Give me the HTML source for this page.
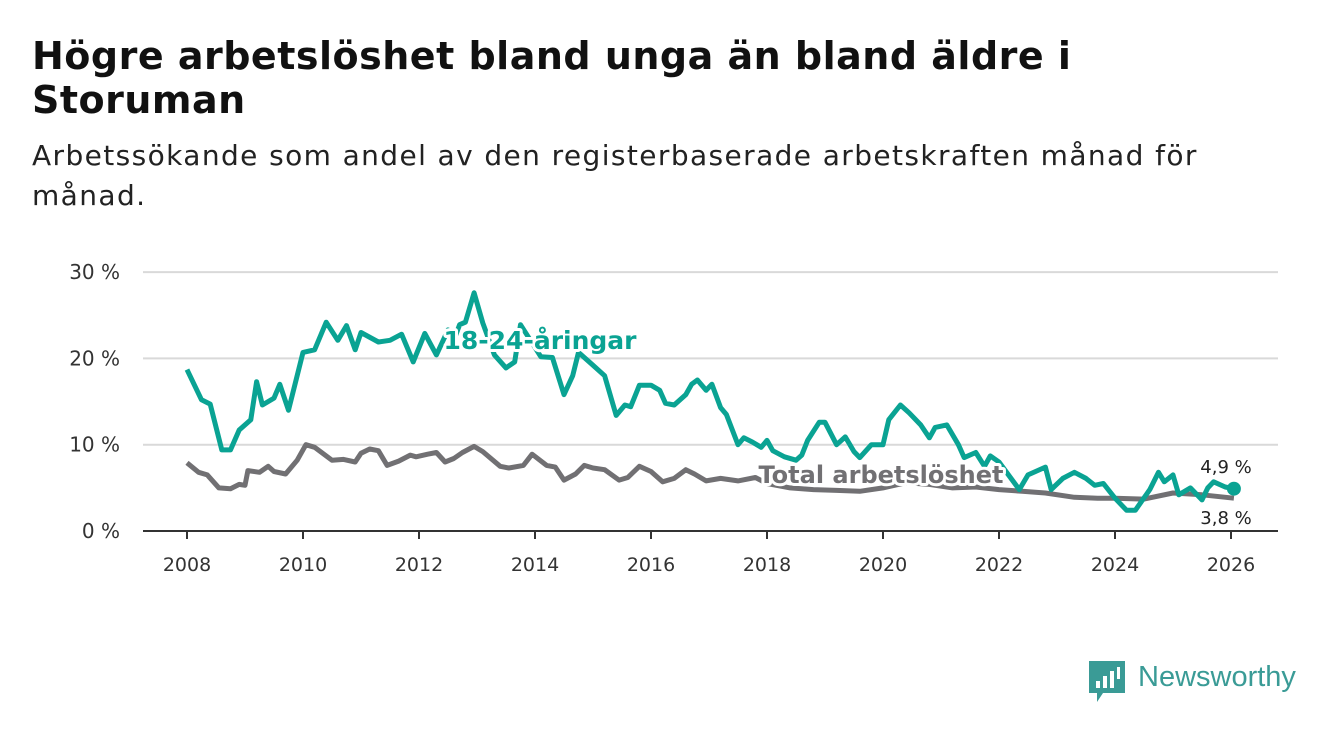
<!DOCTYPE html>
<html><head><meta charset="utf-8"><style>
body{margin:0;width:1340px;height:734px;background:#fff;font-family:"DejaVu Sans","Liberation Sans",sans-serif;overflow:hidden;position:relative}
h1{position:absolute;left:32px;top:34px;margin:0;font-size:38px;line-height:44px;font-weight:bold;color:#111;letter-spacing:0.5px;white-space:nowrap}
.sub{position:absolute;left:32px;top:136px;margin:0;font-size:28px;line-height:40px;color:#222;letter-spacing:1.4px;white-space:nowrap}
</style></head><body>
<h1>Högre arbetslöshet bland unga än bland äldre i<br>Storuman</h1>
<p class="sub">Arbetssökande som andel av den registerbaserade arbetskraften månad för<br>månad.</p>
<svg id="chart" width="1340" height="734" style="position:absolute;left:0;top:0" xmlns="http://www.w3.org/2000/svg"></svg>
<div style="position:absolute;left:1089px;top:661px;display:flex;align-items:center">
<svg width="36" height="42"><path d="M0 0H36V32H14L8 41V32H0Z" fill="#3a9b96"/><rect x="7" y="20" width="4" height="7" fill="#fff"/><rect x="14" y="15" width="4" height="12" fill="#fff"/><rect x="21" y="10" width="4" height="17" fill="#fff"/><rect x="28" y="6" width="3" height="12" fill="#fff"/></svg>
<span style="margin-left:13px;font-size:29px;color:#3a9b96;margin-top:-10px;font-family:'Liberation Sans',sans-serif">Newsworthy</span></div>
<script>
const yTicks=[0,10,20,30];
const xTicks=[2008,2010,2012,2014,2016,2018,2020,2022,2024,2026];
const youthDates=[2008.0,2008.25,2008.4,2008.6,2008.75,2008.9,2009.1,2009.2,2009.3,2009.5,2009.6,2009.75,2010.0,2010.2,2010.4,2010.6,2010.75,2010.9,2011.0,2011.3,2011.5,2011.7,2011.9,2012.1,2012.3,2012.5,2012.6,2012.7,2012.8,2012.95,2013.1,2013.3,2013.5,2013.65,2013.75,2014.1,2014.3,2014.5,2014.65,2014.75,2015.0,2015.2,2015.4,2015.55,2015.65,2015.8,2016.0,2016.15,2016.25,2016.4,2016.6,2016.7,2016.8,2016.95,2017.05,2017.2,2017.3,2017.5,2017.6,2017.75,2017.9,2018.0,2018.1,2018.3,2018.5,2018.6,2018.7,2018.9,2019.0,2019.2,2019.35,2019.5,2019.6,2019.8,2020.0,2020.1,2020.3,2020.45,2020.65,2020.8,2020.9,2021.1,2021.3,2021.4,2021.6,2021.75,2021.85,2022.0,2022.35,2022.5,2022.8,2022.9,2023.1,2023.3,2023.5,2023.65,2023.8,2024.0,2024.2,2024.35,2024.6,2024.75,2024.85,2025.0,2025.1,2025.3,2025.5,2025.6,2025.7,2025.9,2026.05];
const youthVals=[18.7,15.2,14.7,9.4,9.4,11.7,12.9,17.3,14.6,15.4,17,14,20.7,21,24.2,22.1,23.8,21,23,21.9,22.1,22.8,19.6,22.9,20.4,23.3,22.1,23.9,24.2,27.6,24.1,20.4,18.9,19.6,23.9,20.2,20.1,15.8,18,20.7,19.2,18,13.4,14.6,14.4,16.9,16.9,16.3,14.8,14.6,15.8,17,17.5,16.3,17,14.3,13.5,10,10.8,10.3,9.7,10.5,9.3,8.6,8.2,8.8,10.5,12.6,12.6,10,10.9,9.2,8.5,10,10,12.9,14.6,13.7,12.3,10.8,12,12.3,10,8.5,9.1,7.5,8.7,8,4.8,6.5,7.4,4.8,6.1,6.8,6.1,5.3,5.5,3.8,2.4,2.4,4.8,6.8,5.7,6.5,4.2,5,3.6,5,5.7,5.1,4.9];
const totalDates=[2008.0,2008.2,2008.35,2008.55,2008.75,2008.9,2009.0,2009.05,2009.25,2009.4,2009.5,2009.7,2009.9,2010.05,2010.2,2010.5,2010.7,2010.9,2011.0,2011.15,2011.3,2011.45,2011.65,2011.85,2011.95,2012.15,2012.3,2012.45,2012.6,2012.75,2012.95,2013.1,2013.4,2013.55,2013.8,2013.95,2014.2,2014.35,2014.5,2014.7,2014.85,2015.0,2015.2,2015.45,2015.6,2015.8,2016.0,2016.2,2016.4,2016.6,2016.75,2016.95,2017.2,2017.5,2017.8,2018.0,2018.4,2018.8,2019.2,2019.6,2020.0,2020.4,2020.8,2021.2,2021.6,2022.0,2022.4,2022.8,2023.3,2023.7,2024.0,2024.5,2025.0,2025.5,2026.05];
const totalVals=[7.9,6.8,6.5,5,4.9,5.4,5.3,7,6.8,7.5,6.9,6.6,8.2,10,9.7,8.2,8.3,8,9,9.5,9.3,7.6,8.1,8.8,8.6,8.9,9.1,8,8.4,9.1,9.8,9.2,7.5,7.3,7.6,8.9,7.6,7.4,5.9,6.6,7.6,7.3,7.1,5.9,6.2,7.5,6.9,5.7,6.1,7.1,6.6,5.8,6.1,5.8,6.2,5.5,5.0,4.8,4.7,4.6,5.0,5.6,5.4,5.0,5.1,4.8,4.6,4.4,3.9,3.8,3.8,3.7,4.4,4.2,3.8];
const svg=document.getElementById('chart');const NS='http://www.w3.org/2000/svg';
const X=y=>187+(y-2008)*58, Y=v=>531-v*8.63;
function mk(t,a,p){const e=document.createElementNS(NS,t);for(const k in a)e.setAttribute(k,a[k]);(p||svg).appendChild(e);return e;}
yTicks.forEach(v=>{
 const g=mk('line',{x1:143,x2:1278,y1:Y(v),y2:Y(v),stroke:v===0?'#333':'#d9d9d9','stroke-width':2});
 
 
 const t=mk('text',{x:120,y:Y(v)+7,'text-anchor':'end','font-size':20,fill:'#333'});t.textContent=v+' %';
 
 
});
xTicks.forEach(yr=>{
 const l=mk('line',{x1:X(yr),x2:X(yr),y1:531,y2:539,stroke:'#333','stroke-width':2});
 
 
 const t=mk('text',{x:X(yr),y:571,'text-anchor':'middle','font-size':19,fill:'#333'});t.textContent=yr;
 
 
});
function path(d,v){return d.map((x,i)=>(i?'L':'M')+X(x).toFixed(1)+' '+Y(v[i]).toFixed(1)).join('');}
const tl=mk('path',{d:path(totalDates,totalVals),fill:'none',stroke:'#717073','stroke-width':5,'stroke-linejoin':'round'});


const yl=mk('path',{d:path(youthDates,youthVals),fill:'none',stroke:'#0aa393','stroke-width':5,'stroke-linejoin':'round'});


const dot=mk('circle',{cx:X(youthDates[youthDates.length-1]),cy:Y(youthVals[youthVals.length-1]),r:7,fill:'#0aa393'});


function lbl(txt,x,y,size,fill,w,anchor,name){const t=mk('text',{x:x,y:y,'font-size':size,'font-weight':w,fill:fill,'text-anchor':anchor,stroke:'#fff','stroke-width':6,'paint-order':'stroke','stroke-linejoin':'round'});t.textContent=txt;}
lbl('18-24-åringar',540,349,25,'#0aa393','bold','middle','youth-series-label');
lbl('Total arbetslöshet',881,483,24,'#717073','bold','middle','total-series-label');
lbl('4,9 %',1226,473,18,'#222','normal','middle','youth-end-value');
lbl('3,8 %',1226,524,18,'#222','normal','middle','total-end-value');
</script>
</body></html>
